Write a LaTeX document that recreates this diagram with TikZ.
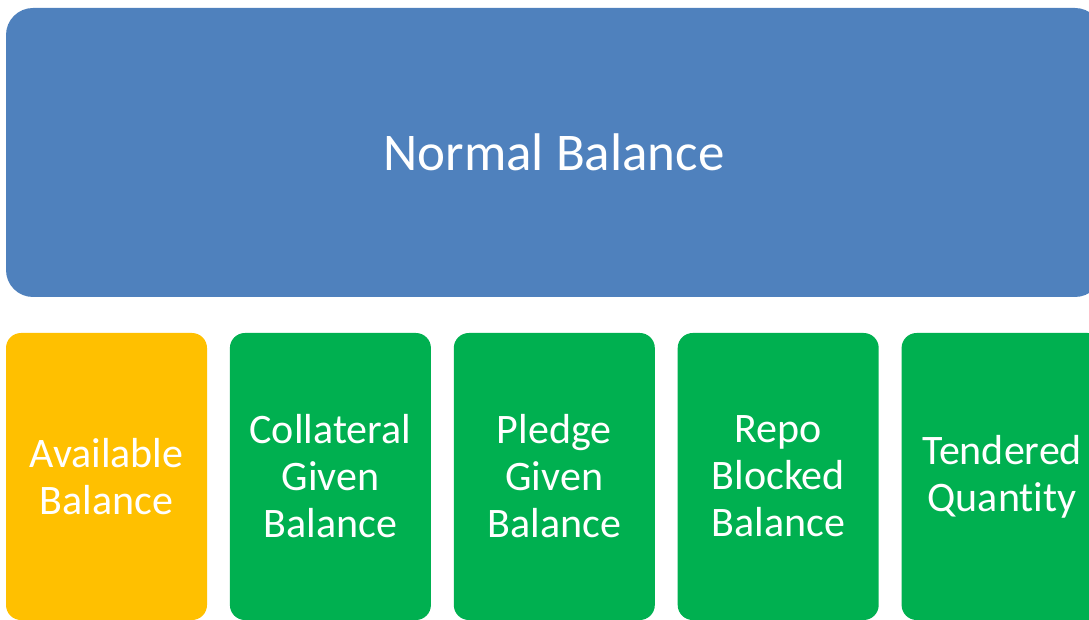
\documentclass[tikz,border=0pt]{standalone}
\usepackage{fontspec}
\setmainfont[Ligatures=NoCommon]{Carlito}
\usetikzlibrary{positioning}
\definecolor{topblue}{HTML}{4F81BD}
\definecolor{freeyellow}{HTML}{FFC000}
\definecolor{heldgreen}{HTML}{00B050}
\tikzset{
  balbox/.style={rounded corners=15pt,minimum width=201pt,minimum height=287pt,
    inner sep=0pt,text=white,align=center,
    font=\fontsize{42}{47}\selectfont},
}
\begin{document}
\begin{tikzpicture}[x=1pt,y=1pt]
   \useasboundingbox (0,0) rectangle (1089,619);
   \clip (0,0) rectangle (1089,619);

   \node[fill=topblue,rounded corners=27pt,minimum width=1096pt,
   minimum height=289pt,inner sep=0pt,text=white,
   font=\fontsize{53}{60}\selectfont] (normal) at (554,466.5) {Normal Balance};

   \node[balbox,fill=freeyellow] (available) at (106.5,142.5) {Available\\Balance};
   \node[balbox,fill=heldgreen,right=22.5pt of available] (collateral)
   {Collateral\\Given\\Balance};
   \node[balbox,fill=heldgreen,right=22.5pt of collateral] (pledge)
   {Pledge\\Given\\Balance};
   \node[balbox,fill=heldgreen,right=22.5pt of pledge] (repo)
   {Repo\\Blocked\\Balance};
   \node[balbox,fill=heldgreen,right=22.5pt of repo] (tendered)
   {Tendered\\Quantity};

 \end{tikzpicture}
\end{document}
